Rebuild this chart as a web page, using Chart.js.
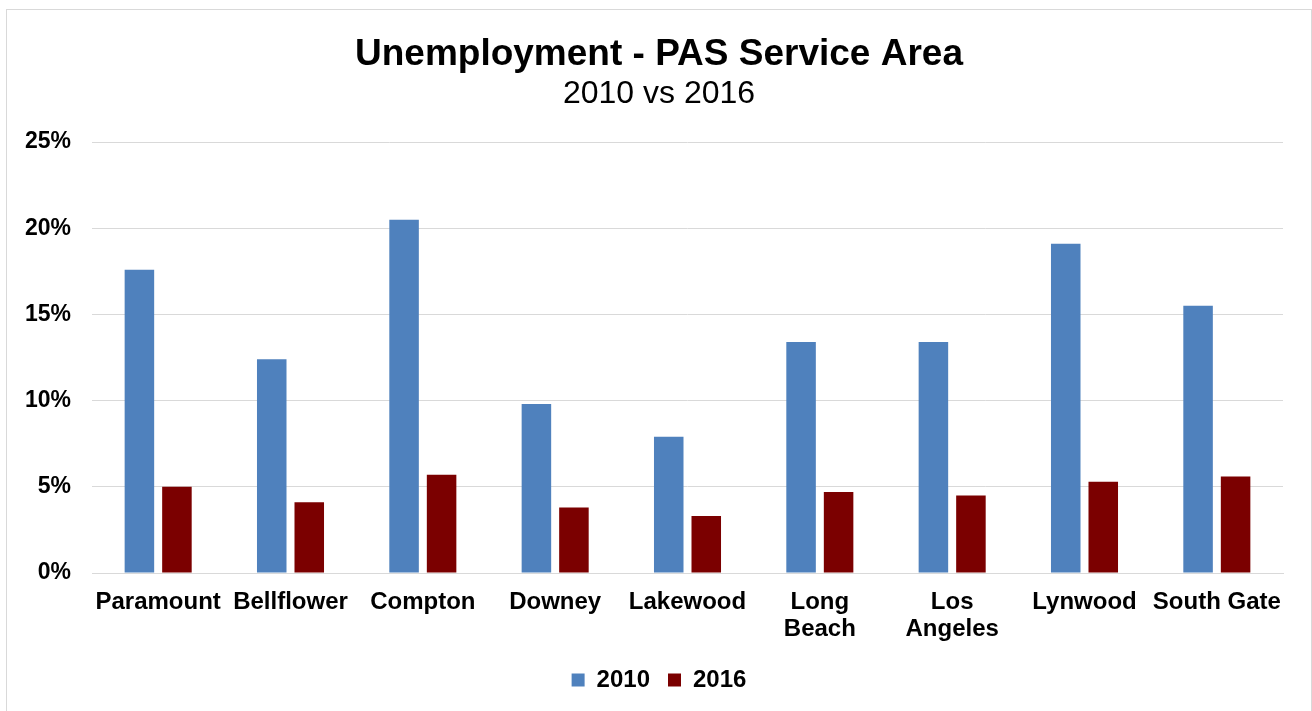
<!DOCTYPE html>
<html>
<head>
<meta charset="utf-8">
<title>Unemployment - PAS Service Area</title>
<script src="https://cdn.jsdelivr.net/npm/chart.js@4/dist/chart.umd.min.js"></script>
<style>
    html, body { margin: 0; padding: 0; background: #ffffff; overflow: hidden; }
    #frame {
        position: absolute;
        left: 6px;
        top: 9px;
        width: 1304px;
        height: 701px;
        border: 1px solid #d9d9d9;
        background: #ffffff;
    }
    #chart { display: block; }
</style>
</head>
<body>
<div id="frame">
    <canvas id="chart" width="1304" height="701"></canvas>
</div>
<script>
// Tỷ lệ thất nghiệp theo thành phố
const cities = ['Paramount', 'Bellflower', 'Compton', 'Downey', 'Lakewood', ['Long', 'Beach'], ['Los', 'Angeles'], 'Lynwood', 'South Gate'];
const rate2010 = [17.6, 12.4, 20.5, 9.8, 7.9, 13.4, 13.4, 19.1, 15.5];
const rate2016 = [5.0, 4.1, 5.7, 3.8, 3.3, 4.7, 4.5, 5.3, 5.6];
const yTicks = [0, 5, 10, 15, 20, 25];

const FONT = '"Liberation Sans", Arial, sans-serif';
const GRID = '#d9d9d9';

document.addEventListener("DOMContentLoaded", function () {
    const ctx = document.getElementById('chart').getContext('2d');

    new Chart(ctx, {
        type: 'bar',
        data: {
            labels: cities,
            datasets: [
                { label: '2010', data: rate2010, backgroundColor: '#4f81bd' },
                { label: '2016', data: rate2016, backgroundColor: '#7b0000' }
            ]
        },
        options: {
            responsive: false,
            animation: false,
            devicePixelRatio: 1,
            categoryPercentage: 0.567,
            barPercentage: 0.787,
            layout: { padding: { left: 0, right: 0, top: 0, bottom: 9 } },
            plugins: {
                title: {
                    display: true,
                    text: 'Unemployment - PAS Service Area',
                    color: '#000000',
                    font: { family: FONT, size: 37, weight: 'bold', lineHeight: 1.1 },
                    padding: { top: 24, bottom: 0 }
                },
                subtitle: {
                    display: true,
                    text: '2010 vs 2016',
                    color: '#000000',
                    font: { family: FONT, size: 32, weight: 'normal', lineHeight: 1.2 },
                    padding: { top: 0, bottom: 29 }
                },
                legend: {
                    position: 'bottom',
                    labels: {
                        color: '#000000',
                        boxWidth: 13,
                        boxHeight: 13,
                        padding: 18,
                        font: { family: FONT, size: 24, weight: 'bold' }
                    }
                },
                tooltip: { enabled: false }
            },
            scales: {
                x: {
                    afterFit: function (scale) { scale.height = 77; },
                    grid: { display: false, drawTicks: false },
                    border: { display: true, color: GRID, width: 1 },
                    ticks: {
                        color: '#000000',
                        autoSkip: false,
                        maxRotation: 0,
                        padding: 16,
                        font: { family: FONT, size: 24, weight: 'bold', lineHeight: 1.125 }
                    }
                },
                y: {
                    min: 0,
                    max: 25,
                    afterFit: function (scale) { scale.width = 85; },
                    afterBuildTicks: function (scale) {
                        scale.ticks = yTicks.map(function (v) { return { value: v }; });
                    },
                    grid: { color: GRID, lineWidth: 1, drawTicks: false },
                    border: { display: false },
                    ticks: {
                        color: '#000000',
                        padding: 21,
                        font: { family: FONT, size: 23, weight: 'bold' },
                        callback: function (v) { return v + '%'; }
                    }
                },
                // trục trống bên phải, chỉ để chừa khoảng trắng
                yRight: {
                    position: 'right',
                    afterFit: function (scale) { scale.width = 28; },
                    grid: { display: false, drawTicks: false },
                    border: { display: false },
                    ticks: { display: false }
                }
            }
        }
    });
});
</script>
</body>
</html>
